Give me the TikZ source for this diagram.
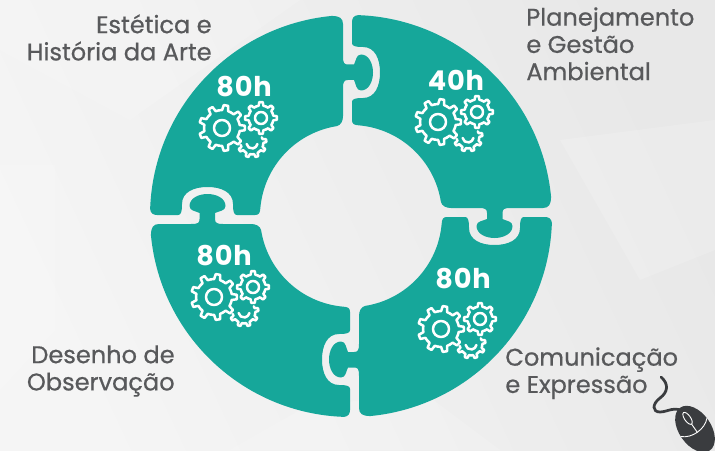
\documentclass[tikz,border=0pt]{standalone}
\usepackage{fontspec}
\setmainfont{Poppins}
\newfontface\topicface{Poppins}[FakeBold=0.6]
\newfontface\hoursface{Poppins Bold}[LetterSpace=3]
\usetikzlibrary{positioning,calc}
\definecolor{pieceteal}{HTML}{16A79A}
\definecolor{labelgray}{HTML}{58595B}
\definecolor{mousedark}{HTML}{3A3C3F}
\tikzset{
  piece/.style={fill=pieceteal},
  gearline/.style={draw=white,line width=.5mm,line join=round,line cap=round},
  topic/.style={text=labelgray,font=\fontsize{13.7}{15.5}\selectfont\topicface,inner sep=0pt},
  hours/.style={text=white,font=\fontsize{15.5}{17}\selectfont\hoursface,inner sep=0pt},
  bgshape/.style={fill=white,opacity=.15},
}
\newcommand*{\gearwheel}[5]{% x, y, radius, pitch, tooth angles
\begin{scope}[shift={(#1,#2)}]
\foreach \t in {#5}
  \draw[gearline] (\t-.5*#4:.78*#3) -- (\t-.24*#4:.78*#3) -- (\t-.14*#4:#3) -- (\t+.14*#4:#3) -- (\t+.24*#4:.78*#3) -- (\t+.5*#4:.78*#3);
\end{scope}}
\newcommand*{\gearset}[2]{% centre of the large wheel
\gearwheel{#1}{#2}{23}{40}{0,40,...,320}
\draw[gearline] (#1,#2) circle[radius=8];
\gearwheel{#1+39}{#2+10}{16}{45}{0,45,...,315}
\draw[gearline] (#1+39,#2+10) circle[radius=6];
\gearwheel{#1+30}{#2-15}{14.5}{40}{-150,-110,...,-30,10}
\draw[gearline] (#1+30,#2-15) ++(190:5.5) arc[start angle=190,end angle=350,radius=5.5];
}
\begin{document}
\begin{tikzpicture}[x=.02cm,y=.02cm]
\useasboundingbox (0,0) rectangle (715,450);
\shade[left color=black!4,right color=black!9,shading angle=115] (0,0) rectangle (715,450);
% faint background facets
\fill[bgshape] (0,285) -- (55,285) -- (55,120) -- (0,60) -- cycle;
\fill[bgshape] (0,450) -- (300,450) -- (130,330) -- (0,400) -- cycle;
\fill[bgshape] (560,310) -- (715,330) -- (715,200) -- (640,170) -- cycle;
\fill[bgshape] (230,0) -- (500,0) -- (420,60) -- (300,40) -- cycle;
% puzzle ring
\foreach \a in {0,-90,-180,-270} {
\begin{scope}[shift={(351,234)},rotate=\a]
\fill[piece] (-194,1) .. controls (-198,1) and (-200.5,3) .. (178:201)
  arc[start angle=178,end angle=95.4,radius=201]
  .. controls (-12,200) and (-8,198) .. (-8,192)
  -- (-8,160) .. controls (-8,153) and (-7,151.5) .. (-3,151.5)
  -- (3,151.5) .. controls (5,155) and (5,161.5) .. (10,161.5)
  .. controls (18,161.5) and (22,152) .. (22,143.5)
  .. controls (22,135) and (18,125.5) .. (10,125.5)
  .. controls (5,125.5) and (5,132) .. (3,136)
  -- (-3,136) .. controls (-7,136) and (-8,134) .. (-8,128)
  -- (-8,100) .. controls (-8,95) and (-10,91) .. (99:91)
  arc[start angle=99,end angle=175,radius=91]
  .. controls (-91,3) and (-92,1) .. (-96,1)
  -- (-114,1) .. controls (-117,1) and (-118,4) .. (-118,12)
  .. controls (-118,24) and (-130,29) .. (-143.5,29)
  .. controls (-157,29) and (-169,24) .. (-169,12)
  .. controls (-169,4) and (-170,1) .. (-173,1)
  -- cycle;
\end{scope}
}
% gears
\gearset{222}{322}
\gearset{438}{328}
\gearset{214}{153}
\gearset{441}{121}
% hours
\node[hours] (hoursa) at (244,363) {80h};
\node[hours] (hoursb) at (456,370) {40h};
\node[hours] (hoursc) at (224,194) {80h};
\node[hours] (hoursd) at (463,171) {80h};
% topics
\node[topic,align=right,anchor=north east] (estetica) at (212,436) {Estética e\\História da Arte};
\node[topic,align=left,anchor=north west] (planejamento) at (526,443) {Planejamento\\e Gestão\\Ambiental};
\node[topic,align=right,anchor=north east] (desenho) at (175,105) {Desenho de\\Observação};
\node[topic,align=left,anchor=north west] (comunicacao) at (505,103) {Comunicação\\e Expressão};
% mouse
\draw[mousedark,line width=.55mm,line cap=round] (661,73) .. controls (669,66) and (668,58) .. (660,52)
  .. controls (652,46) and (652,38) .. (660,38) .. controls (668,38) and (675,45) .. (686,37);
\begin{scope}
\clip (0,0) rectangle (715,450);
\begin{scope}[shift={(695,21)},rotate=35]
\fill[mousedark] (0,0) ellipse[x radius=16,y radius=26];
\draw[white,line width=.18mm] (-16,2) .. controls (-8,-6) and (8,-6) .. (16,2);
\draw[white,line width=.18mm] (0,-4) -- (0,6);
\draw[white,line width=.18mm] (0,13) ellipse[x radius=3,y radius=7];
\end{scope}
\end{scope}
\end{tikzpicture}
\end{document}
